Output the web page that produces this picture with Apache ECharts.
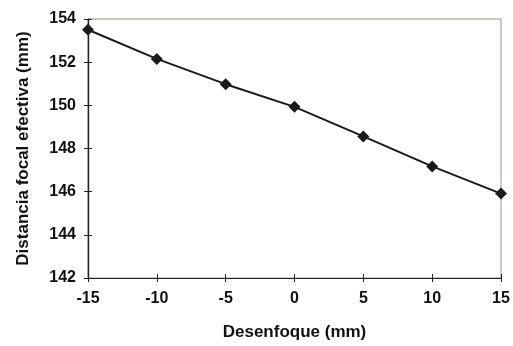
<!DOCTYPE html>
<html><head><meta charset="utf-8">
<script src="https://cdn.jsdelivr.net/npm/echarts@6/dist/echarts.min.js"></script>
<style>html,body{margin:0;padding:0;background:#fff}#c{width:513px;height:346px}</style>
</head><body><div id="c"></div>
<script>
const xValues = [-15, -10, -5, 0, 5, 10, 15];
const focal = [153.5, 152.15, 150.98, 149.93, 148.56, 147.17, 145.91];
const xTitle = 'Desenfoque (mm)';
const yTitle = 'Distancia focal efectiva (mm)';

const chart = echarts.init(document.getElementById('c'));
const font = 'Liberation Sans, Arial, sans-serif';
const lbl = {color: '#111', fontSize: 16, fontFamily: font, fontWeight: 'bold'};
const axLine = {show: true, onZero: false, lineStyle: {color: '#222', width: 1.2}};
const baseX = {type: 'value', min: -15, max: 15, interval: 5, position: 'bottom',
  splitLine: {show: false}, axisLine: axLine};
const baseY = {type: 'value', min: 142, max: 154, interval: 2, position: 'left',
  splitLine: {show: false}, axisLine: axLine};
chart.setOption({
  animation: false,
  grid: {left: 88, right: 12, top: 19, bottom: 65, show: true, borderColor: '#8a9a80', borderWidth: 1, backgroundColor: '#fff'},
  xAxis: [
    Object.assign({}, baseX, {
      name: xTitle, nameLocation: 'middle', nameGap: 46,
      nameTextStyle: {color: '#111', fontSize: 17, fontFamily: font, fontWeight: 'bold'},
      axisTick: {show: true, length: 4, lineStyle: {color: '#222'}},
      axisLabel: Object.assign({margin: 13}, lbl)
    }),
    Object.assign({}, baseX, {
      axisTick: {show: true, inside: true, length: 4, lineStyle: {color: '#222'}},
      axisLabel: {show: false}
    })
  ],
  yAxis: [
    Object.assign({}, baseY, {
      name: yTitle, nameLocation: 'middle', nameGap: 56,
      nameTextStyle: {color: '#111', fontSize: 17, fontFamily: font, fontWeight: 'bold'},
      axisTick: {show: true, length: 4, lineStyle: {color: '#222'}},
      axisLabel: Object.assign({margin: 12}, lbl)
    }),
    Object.assign({}, baseY, {
      axisTick: {show: true, inside: true, length: 4, lineStyle: {color: '#222'}},
      axisLabel: {show: false}
    })
  ],
  series: [{
    type: 'line',
    data: xValues.map((x, i) => [x, focal[i]]),
    symbol: 'diamond', symbolSize: 12,
    lineStyle: {color: '#1a1a1a', width: 2},
    itemStyle: {color: '#1a1a1a'},
    clip: false
  }]
});
</script></body></html>
